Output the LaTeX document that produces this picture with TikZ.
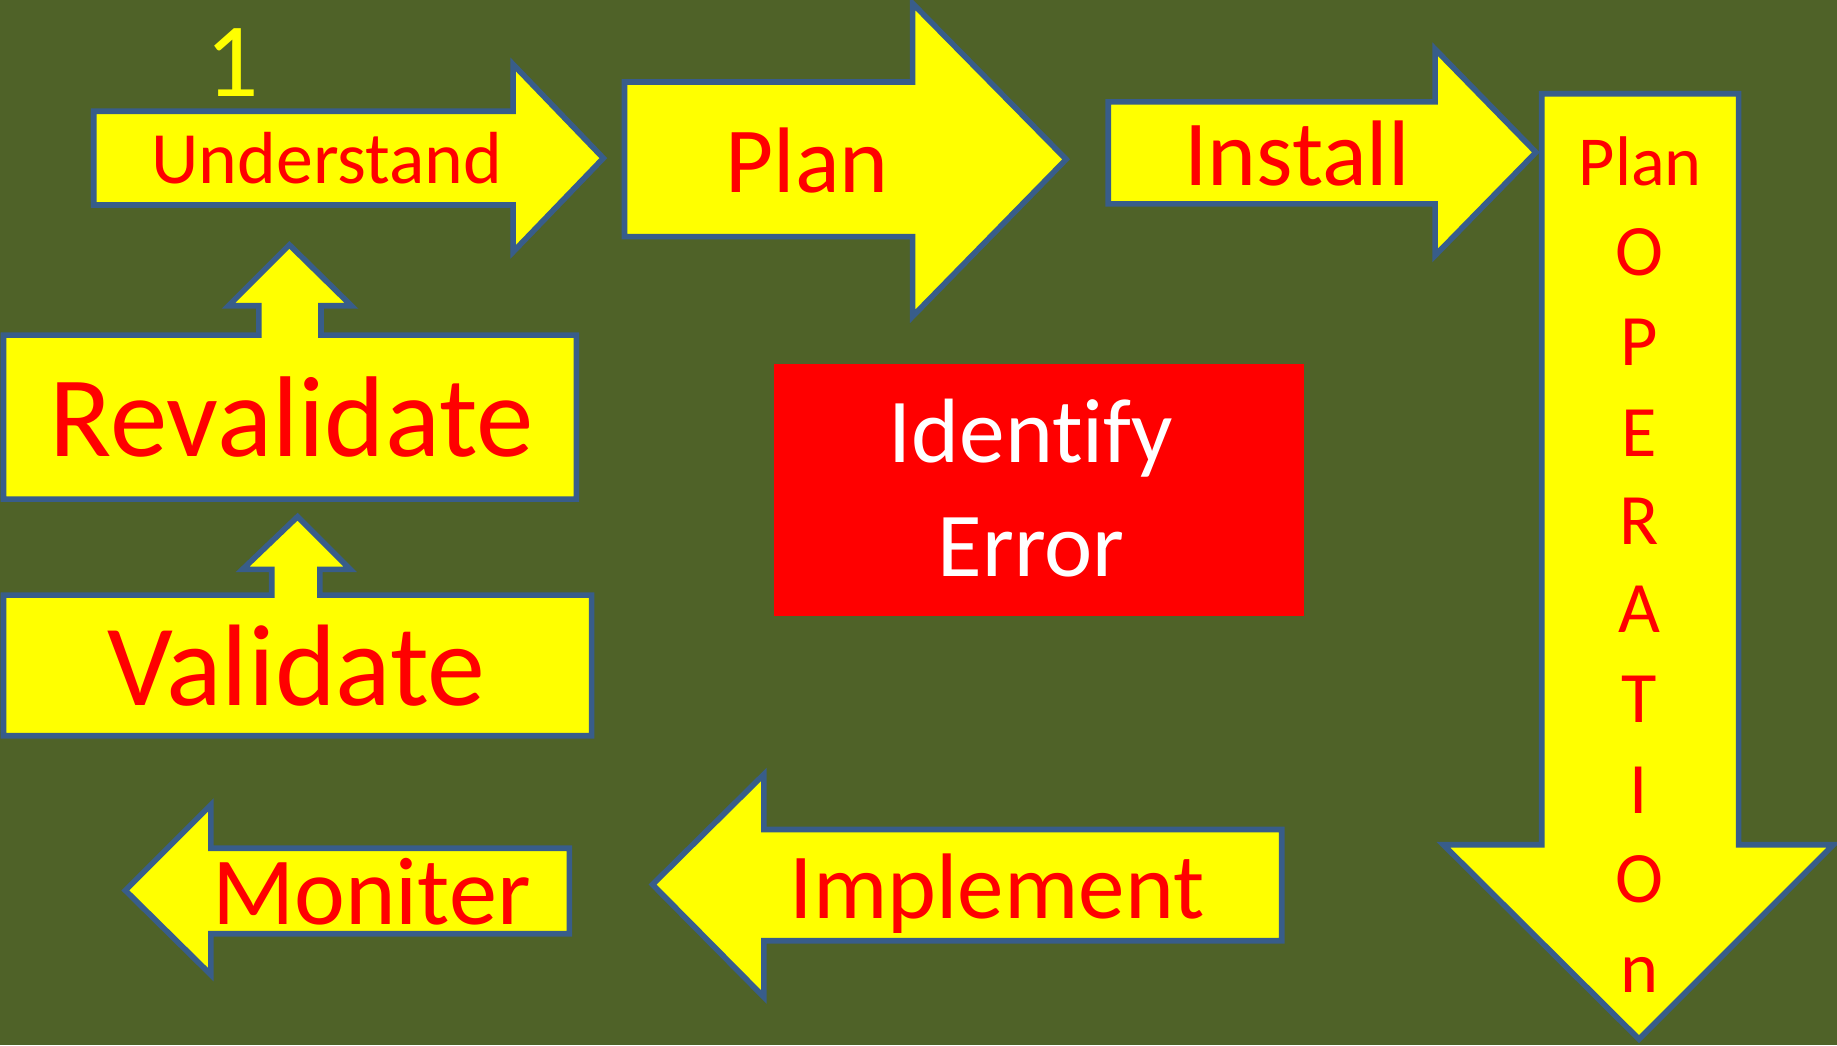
\documentclass[tikz,border=0pt]{standalone}
\usepackage{fontspec}
\setmainfont{Carlito}[Ligatures={NoCommon}]
\definecolor{bgOlive}{HTML}{4F6228}
\definecolor{edgeBlue}{HTML}{385D8A}
\definecolor{fillYel}{HTML}{FFFF00}
\definecolor{txtRed}{HTML}{FF0000}
\newcommand{\fsz}[1]{\fontsize{#1}{#1}\selectfont}
\begin{document}
\begin{tikzpicture}[x=0.011716cm,y=-0.011716cm,
  yshape/.style={fill=fillYel,draw=edgeBlue,line width=1.6pt,line join=miter},
  lbl/.style={text=txtRed,inner sep=0pt,anchor=base}]
\fill[bgOlive] (0,0) rectangle (1568,892);
\useasboundingbox (0,0) rectangle (1568,892);
% arrows
\draw[yshape] (80,95) -- (438,95) -- (438,55) -- (515,135) -- (438,215) -- (438,175) -- (80,175) -- cycle;
\draw[yshape] (533,70) -- (779,70) -- (779,3) -- (910,136) -- (779,270) -- (779,202) -- (533,202) -- cycle;
\draw[yshape] (946,87) -- (1225,87) -- (1225,42) -- (1311,130) -- (1225,218) -- (1225,174) -- (946,174) -- cycle;
\draw[yshape] (1316,80) -- (1484,80) -- (1484,721) -- (1565,721) -- (1399,887) -- (1232,721) -- (1316,721) -- cycle;
\draw[yshape] (3,286) -- (221,286) -- (221,261) -- (195,261) -- (247,209) -- (300,261) -- (274,261) -- (274,286) -- (492,286) -- (492,426) -- (3,426) -- cycle;
\draw[yshape] (3,508) -- (232,508) -- (232,486) -- (207,486) -- (254,441) -- (299,486) -- (273,486) -- (273,508) -- (505,508) -- (505,628) -- (3,628) -- cycle;
\draw[yshape] (1094,708) -- (652,708) -- (652,661) -- (557,755) -- (652,851) -- (652,803) -- (1094,803) -- cycle;
\draw[yshape] (486,724) -- (180,724) -- (180,687) -- (107,760) -- (180,832) -- (180,797) -- (486,797) -- cycle;
\fill[txtRed] (661,311) rectangle (1113,526);
% labels
\node[lbl,text=fillYel] (one) at (198,82) {\fsz{30}1};
\node[lbl] (understand) at (279,157) {\fsz{21}Understand};
\node[lbl] (plan) at (689,164) {\fsz{26.5}Plan};
\node[lbl] (install) at (1107,158) {\fsz{26.5}Install};
\node[lbl] (plansmall) at (1400,158) {\fsz{20}Plan};
\node[lbl] (o1) at (1399,235) {\fsz{20.6}O};
\node[lbl] (p1) at (1399,312) {\fsz{20.6}P};
\node[lbl] (e1) at (1399,390) {\fsz{20.6}E};
\node[lbl] (r1) at (1399,465) {\fsz{20.6}R};
\node[lbl] (a1) at (1399,540) {\fsz{20.6}A};
\node[lbl] (t1) at (1399,617) {\fsz{20.6}T};
\node[lbl] (i1) at (1399,694) {\fsz{20.6}I};
\node[lbl] (o2) at (1399,770) {\fsz{20.6}O};
\node[lbl] (n1) at (1399,847) {\fsz{20.6}n};
\node[lbl] (revalidate) at (249,390) {\fsz{32.7}Revalidate};
\node[lbl] (validate) at (253,602) {\fsz{33}Validate};
\node[lbl,text=white] (identify) at (880,395) {\fsz{26}Identify};
\node[lbl,text=white] (error) at (880,492) {\fsz{26}Error};
\node[lbl] (implement) at (851,784) {\fsz{26.5}Implement};
\node[lbl] (moniter) at (317,789) {\fsz{27.4}Moniter};
\end{tikzpicture}
\end{document}
